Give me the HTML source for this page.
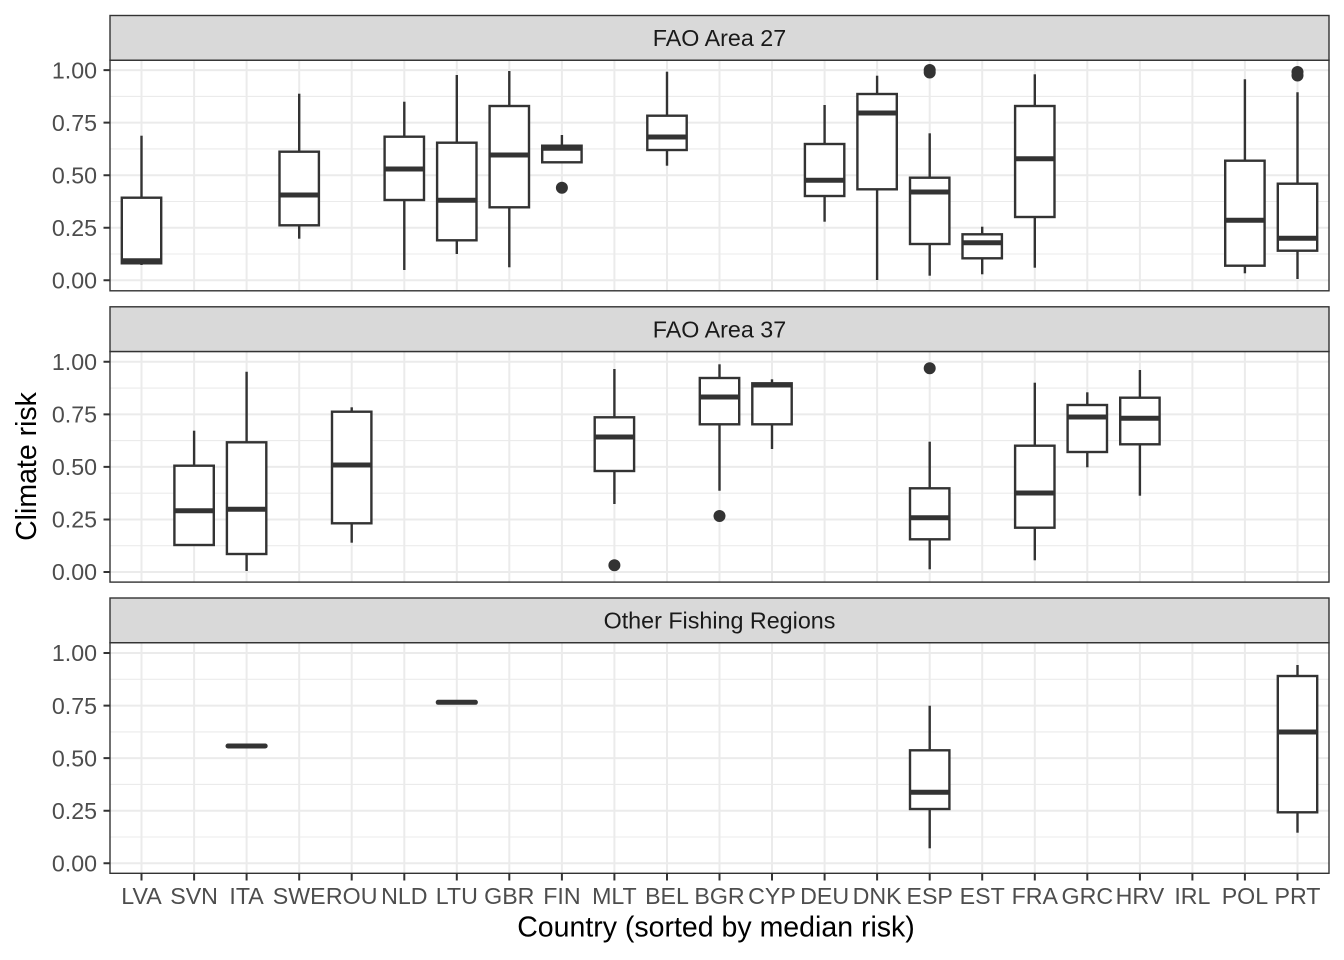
<!DOCTYPE html>
<html>
<head>
<meta charset="utf-8">
<style>
html,body{margin:0;padding:0;background:#fff;}
svg{display:block;}
.grid{stroke:#EBEBEB;fill:none;}
.maj{stroke-width:2;}
.min{stroke-width:1.1;}
.bx line{stroke:#333333;stroke-width:2.4;}
.bx rect{fill:#fff;stroke:#333333;stroke-width:2.4;}
.bx line.med{stroke-width:5;}
.bx circle{fill:#333333;}
.tl{font-family:"Liberation Sans",Arial,sans-serif;font-size:23.2px;fill:#4D4D4D;}
.st{font-family:"Liberation Sans",Arial,sans-serif;font-size:23.3px;fill:#1A1A1A;}
.at{font-family:"Liberation Sans",Arial,sans-serif;font-size:28.5px;fill:#000;}
.tk{stroke:#333333;stroke-width:2;}
</style>
</head>
<body>
<svg width="1344" height="960" viewBox="0 0 1344 960" xmlns="http://www.w3.org/2000/svg">
<rect x="0" y="0" width="1344" height="960" fill="#fff"/>

<defs>
<g id="vgrid">
<path class="grid maj" d="M141.5 0V231M194.1 0V231M246.6 0V231M299.2 0V231M351.7 0V231M404.3 0V231M456.8 0V231M509.3 0V231M561.9 0V231M614.4 0V231M667 0V231M719.5 0V231M772 0V231M824.6 0V231M877.1 0V231M929.7 0V231M982.2 0V231M1034.8 0V231M1087.3 0V231M1139.9 0V231M1192.4 0V231M1244.9 0V231M1297.5 0V231"/>
</g>
</defs>

<!-- ===== Panel 1 ===== -->
<rect x="110" y="60.2" width="1219" height="230.6" fill="#fff"/>
<path class="grid min" d="M110 96.4H1329M110 148.9H1329M110 201.5H1329M110 254H1329"/>
<path class="grid maj" d="M110 70.1H1329M110 122.6H1329M110 175.2H1329M110 227.8H1329M110 280.3H1329"/>
<use href="#vgrid" transform="translate(0,60.2)"/>
<g class="bx">
<line x1="141.5" y1="135.7" x2="141.5" y2="197.7"/><line x1="141.5" y1="263.3" x2="141.5" y2="265"/>
<rect x="121.8" y="197.7" width="39.4" height="65.6"/><line class="med" x1="121.8" y1="260.8" x2="161.2" y2="260.8"/>
<line x1="299.2" y1="93.7" x2="299.2" y2="151.7"/><line x1="299.2" y1="225.3" x2="299.2" y2="238.7"/>
<rect x="279.5" y="151.7" width="39.4" height="73.6"/><line class="med" x1="279.5" y1="195" x2="318.9" y2="195"/>
<line x1="404.3" y1="101.7" x2="404.3" y2="136.7"/><line x1="404.3" y1="200" x2="404.3" y2="270"/>
<rect x="384.6" y="136.7" width="39.4" height="63.3"/><line class="med" x1="384.6" y1="169" x2="424" y2="169"/>
<line x1="456.8" y1="75" x2="456.8" y2="142.7"/><line x1="456.8" y1="240.3" x2="456.8" y2="254"/>
<rect x="437.1" y="142.7" width="39.4" height="97.6"/><line class="med" x1="437.1" y1="200.3" x2="476.5" y2="200.3"/>
<line x1="509.3" y1="71" x2="509.3" y2="106"/><line x1="509.3" y1="207.3" x2="509.3" y2="267.3"/>
<rect x="489.6" y="106" width="39.4" height="101.3"/><line class="med" x1="489.6" y1="155" x2="529" y2="155"/>
<line x1="561.9" y1="135" x2="561.9" y2="145.7"/>
<rect x="542.2" y="145.7" width="39.4" height="16.6"/><line class="med" x1="542.2" y1="148.2" x2="581.6" y2="148.2"/>
<circle cx="561.9" cy="187.7" r="6"/>
<line x1="667" y1="71.7" x2="667" y2="115.7"/><line x1="667" y1="150" x2="667" y2="165.7"/>
<rect x="647.3" y="115.7" width="39.4" height="34.3"/><line class="med" x1="647.3" y1="137" x2="686.7" y2="137"/>
<line x1="824.6" y1="105" x2="824.6" y2="144"/><line x1="824.6" y1="196" x2="824.6" y2="221.7"/>
<rect x="804.9" y="144" width="39.4" height="52"/><line class="med" x1="804.9" y1="180.3" x2="844.3" y2="180.3"/>
<line x1="877.1" y1="75.7" x2="877.1" y2="94"/><line x1="877.1" y1="189.3" x2="877.1" y2="280"/>
<rect x="857.4" y="94" width="39.4" height="95.3"/><line class="med" x1="857.4" y1="113" x2="896.8" y2="113"/>
<line x1="929.7" y1="133.3" x2="929.7" y2="177.7"/><line x1="929.7" y1="244" x2="929.7" y2="275.7"/>
<rect x="910" y="177.7" width="39.4" height="66.3"/><line class="med" x1="910" y1="192" x2="949.4" y2="192"/>
<circle cx="929.7" cy="70" r="6"/><circle cx="929.7" cy="72.5" r="6"/>
<line x1="982.2" y1="226.7" x2="982.2" y2="234.3"/><line x1="982.2" y1="258.3" x2="982.2" y2="274.3"/>
<rect x="962.5" y="234.3" width="39.4" height="24"/><line class="med" x1="962.5" y1="242.7" x2="1001.9" y2="242.7"/>
<line x1="1034.8" y1="74.3" x2="1034.8" y2="106"/><line x1="1034.8" y1="217" x2="1034.8" y2="267.7"/>
<rect x="1015.1" y="106" width="39.4" height="111"/><line class="med" x1="1015.1" y1="158.7" x2="1054.5" y2="158.7"/>
<line x1="1244.9" y1="79.3" x2="1244.9" y2="160.7"/><line x1="1244.9" y1="265.7" x2="1244.9" y2="273.3"/>
<rect x="1225.2" y="160.7" width="39.4" height="105"/><line class="med" x1="1225.2" y1="220.3" x2="1264.6" y2="220.3"/>
<line x1="1297.5" y1="92.3" x2="1297.5" y2="183.7"/><line x1="1297.5" y1="250.7" x2="1297.5" y2="279"/>
<rect x="1277.8" y="183.7" width="39.4" height="67"/><line class="med" x1="1277.8" y1="238.3" x2="1317.2" y2="238.3"/>
<circle cx="1297.5" cy="72" r="6"/><circle cx="1297.5" cy="75.5" r="6"/>
</g>
<rect x="110" y="60.2" width="1219" height="230.6" fill="none" stroke="#333333" stroke-width="1.4"/>
<rect x="110" y="15.5" width="1219" height="44.7" fill="#D9D9D9" stroke="#333333" stroke-width="1.4"/>
<text class="st" x="719.5" y="46.2" text-anchor="middle">FAO Area 27</text>

<!-- ===== Panel 2 ===== -->
<rect x="110" y="351.5" width="1219" height="230.6" fill="#fff"/>
<path class="grid min" d="M110 388.1H1329M110 440.6H1329M110 493.2H1329M110 545.7H1329"/>
<path class="grid maj" d="M110 361.8H1329M110 414.4H1329M110 466.9H1329M110 519.5H1329M110 572H1329"/>
<use href="#vgrid" transform="translate(0,351.5)"/>
<g class="bx">
<line x1="194.1" y1="430.7" x2="194.1" y2="465.7"/>
<rect x="174.4" y="465.7" width="39.4" height="79.3"/><line class="med" x1="174.4" y1="510.7" x2="213.8" y2="510.7"/>
<line x1="246.6" y1="371.7" x2="246.6" y2="442.3"/><line x1="246.6" y1="554" x2="246.6" y2="571"/>
<rect x="226.9" y="442.3" width="39.4" height="111.7"/><line class="med" x1="226.9" y1="509.3" x2="266.3" y2="509.3"/>
<line x1="351.7" y1="407.3" x2="351.7" y2="411.7"/><line x1="351.7" y1="523.3" x2="351.7" y2="542.7"/>
<rect x="332" y="411.7" width="39.4" height="111.6"/><line class="med" x1="332" y1="465" x2="371.4" y2="465"/>
<line x1="614.4" y1="369" x2="614.4" y2="417.3"/><line x1="614.4" y1="471" x2="614.4" y2="504"/>
<rect x="594.7" y="417.3" width="39.4" height="53.7"/><line class="med" x1="594.7" y1="437" x2="634.1" y2="437"/>
<circle cx="614.4" cy="565.3" r="6"/>
<line x1="719.5" y1="364.3" x2="719.5" y2="378"/><line x1="719.5" y1="424.3" x2="719.5" y2="490.7"/>
<rect x="699.8" y="378" width="39.4" height="46.3"/><line class="med" x1="699.8" y1="397" x2="739.2" y2="397"/>
<circle cx="719.5" cy="516" r="6"/>
<line x1="772" y1="379.3" x2="772" y2="383.3"/><line x1="772" y1="424.3" x2="772" y2="449"/>
<rect x="752.3" y="383.3" width="39.4" height="41"/><line class="med" x1="752.3" y1="385" x2="791.7" y2="385"/>
<line x1="929.7" y1="441.7" x2="929.7" y2="488.3"/><line x1="929.7" y1="539.3" x2="929.7" y2="569.3"/>
<rect x="910" y="488.3" width="39.4" height="51"/><line class="med" x1="910" y1="517.7" x2="949.4" y2="517.7"/>
<circle cx="929.7" cy="368.3" r="6"/>
<line x1="1034.8" y1="382.7" x2="1034.8" y2="445.7"/><line x1="1034.8" y1="527.7" x2="1034.8" y2="560.3"/>
<rect x="1015.1" y="445.7" width="39.4" height="82"/><line class="med" x1="1015.1" y1="493" x2="1054.5" y2="493"/>
<line x1="1087.3" y1="392.3" x2="1087.3" y2="405"/><line x1="1087.3" y1="452" x2="1087.3" y2="467.3"/>
<rect x="1067.6" y="405" width="39.4" height="47"/><line class="med" x1="1067.6" y1="417" x2="1107" y2="417"/>
<line x1="1139.9" y1="370" x2="1139.9" y2="397.7"/><line x1="1139.9" y1="444.3" x2="1139.9" y2="495.7"/>
<rect x="1120.2" y="397.7" width="39.4" height="46.6"/><line class="med" x1="1120.2" y1="418.3" x2="1159.6" y2="418.3"/>
</g>
<rect x="110" y="351.5" width="1219" height="230.6" fill="none" stroke="#333333" stroke-width="1.4"/>
<rect x="110" y="306.8" width="1219" height="44.7" fill="#D9D9D9" stroke="#333333" stroke-width="1.4"/>
<text class="st" x="719.5" y="337.5" text-anchor="middle">FAO Area 37</text>

<!-- ===== Panel 3 ===== -->
<rect x="110" y="642.7" width="1219" height="230.6" fill="#fff"/>
<path class="grid min" d="M110 679.3H1329M110 731.9H1329M110 784.4H1329M110 837H1329"/>
<path class="grid maj" d="M110 653H1329M110 705.6H1329M110 758.1H1329M110 810.7H1329M110 863.2H1329"/>
<use href="#vgrid" transform="translate(0,642.7)"/>
<g class="bx">
<line class="med" x1="228" y1="746" x2="265.2" y2="746" stroke-linecap="round"/>
<line class="med" x1="438.2" y1="702.3" x2="475.4" y2="702.3" stroke-linecap="round"/>
<line x1="929.7" y1="705.7" x2="929.7" y2="750.3"/><line x1="929.7" y1="809" x2="929.7" y2="848.3"/>
<rect x="910" y="750.3" width="39.4" height="58.7"/><line class="med" x1="910" y1="792.3" x2="949.4" y2="792.3"/>
<line x1="1297.5" y1="665" x2="1297.5" y2="676"/><line x1="1297.5" y1="812.3" x2="1297.5" y2="832.7"/>
<rect x="1277.8" y="676" width="39.4" height="136.3"/><line class="med" x1="1277.8" y1="732" x2="1317.2" y2="732"/>
</g>
<rect x="110" y="642.7" width="1219" height="230.6" fill="none" stroke="#333333" stroke-width="1.4"/>
<rect x="110" y="598" width="1219" height="44.7" fill="#D9D9D9" stroke="#333333" stroke-width="1.4"/>
<text class="st" x="719.5" y="628.6" text-anchor="middle">Other Fishing Regions</text>

<!-- ===== Y ticks & labels ===== -->
<path class="tk" d="M103.5 70.1H110M103.5 122.6H110M103.5 175.2H110M103.5 227.8H110M103.5 280.3H110
M103.5 361.8H110M103.5 414.4H110M103.5 466.9H110M103.5 519.5H110M103.5 572H110
M103.5 653H110M103.5 705.6H110M103.5 758.1H110M103.5 810.7H110M103.5 863.2H110"/>
<g class="tl" text-anchor="end">
<text x="97" y="78.3">1.00</text>
<text x="97" y="130.8">0.75</text>
<text x="97" y="183.4">0.50</text>
<text x="97" y="236">0.25</text>
<text x="97" y="288.5">0.00</text>
<text x="97" y="370">1.00</text>
<text x="97" y="422.6">0.75</text>
<text x="97" y="475.1">0.50</text>
<text x="97" y="527.7">0.25</text>
<text x="97" y="580.2">0.00</text>
<text x="97" y="661.2">1.00</text>
<text x="97" y="713.8">0.75</text>
<text x="97" y="766.3">0.50</text>
<text x="97" y="818.9">0.25</text>
<text x="97" y="871.4">0.00</text>
</g>

<!-- ===== X ticks & labels ===== -->
<path class="tk" d="M141.5 873.3V880.5M194.1 873.3V880.5M246.6 873.3V880.5M299.2 873.3V880.5M351.7 873.3V880.5M404.3 873.3V880.5M456.8 873.3V880.5M509.3 873.3V880.5M561.9 873.3V880.5M614.4 873.3V880.5M667 873.3V880.5M719.5 873.3V880.5M772 873.3V880.5M824.6 873.3V880.5M877.1 873.3V880.5M929.7 873.3V880.5M982.2 873.3V880.5M1034.8 873.3V880.5M1087.3 873.3V880.5M1139.9 873.3V880.5M1192.4 873.3V880.5M1244.9 873.3V880.5M1297.5 873.3V880.5"/>
<g class="tl" text-anchor="middle">
<text x="141.5" y="904">LVA</text>
<text x="194.1" y="904">SVN</text>
<text x="246.6" y="904">ITA</text>
<text x="299.2" y="904">SWE</text>
<text x="351.7" y="904">ROU</text>
<text x="404.3" y="904">NLD</text>
<text x="456.8" y="904">LTU</text>
<text x="509.3" y="904">GBR</text>
<text x="561.9" y="904">FIN</text>
<text x="614.4" y="904">MLT</text>
<text x="667" y="904">BEL</text>
<text x="719.5" y="904">BGR</text>
<text x="772" y="904">CYP</text>
<text x="824.6" y="904">DEU</text>
<text x="877.1" y="904">DNK</text>
<text x="929.7" y="904">ESP</text>
<text x="982.2" y="904">EST</text>
<text x="1034.8" y="904">FRA</text>
<text x="1087.3" y="904">GRC</text>
<text x="1139.9" y="904">HRV</text>
<text x="1192.4" y="904">IRL</text>
<text x="1244.9" y="904">POL</text>
<text x="1297.5" y="904">PRT</text>
</g>

<!-- ===== Axis titles ===== -->
<text class="at" x="716" y="936.5" text-anchor="middle">Country (sorted by median risk)</text>
<text class="at" transform="translate(36,466.5) rotate(-90)" text-anchor="middle">Climate risk</text>
</svg>
</body>
</html>
